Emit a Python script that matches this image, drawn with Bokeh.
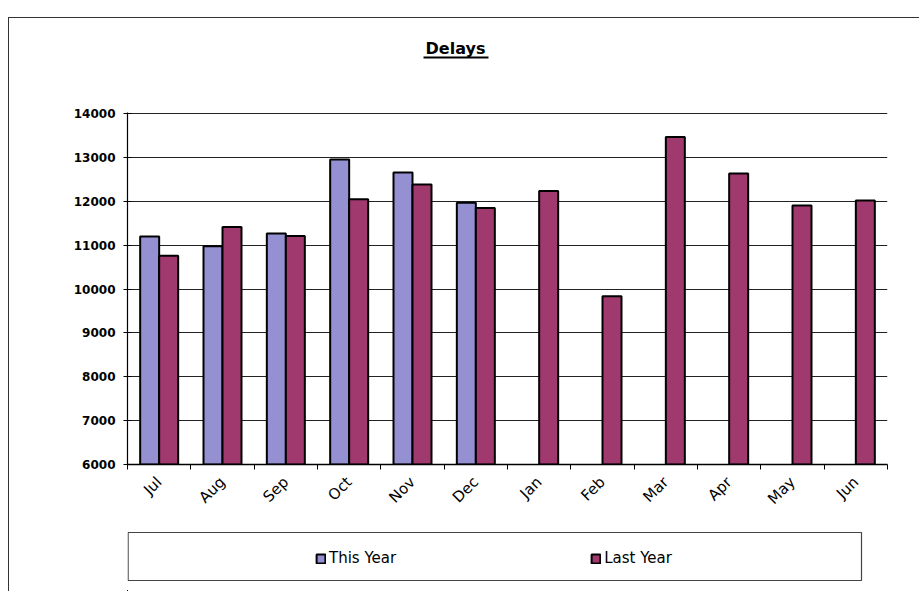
import numpy as np
from bokeh.plotting import figure
from bokeh.layouts import column
from bokeh.core.properties import value
from bokeh.models import (ColumnDataSource, FixedTicker, Legend, LegendItem, Range1d)
from bokeh.transform import dodge
from bokeh.embed import file_html
from bokeh.resources import INLINE

# Monthly delay counts, financial year Jul-Jun
months = ["Jul", "Aug", "Sep", "Oct", "Nov", "Dec",
          "Jan", "Feb", "Mar", "Apr", "May", "Jun"]
this_year = [11200, 10980, 11270, 12960, 12660, 11970,
             None, None, None, None, None, None]
last_year = [10760, 11420, 11210, 12050, 12390, 11850,
             12240, 9840, 13470, 12640, 11910, 12020]
y_ticks = [6000, 7000, 8000, 9000, 10000, 11000, 12000, 13000, 14000]
series_names = ["This Year", "Last Year"]
chart_title = "Delays"

BLUE = "#9490d2"
PLUM = "#a0396e"
FONT = "DejaVu Sans"

# page geometry (canvas pixels, top-left origin)
OX, OY = 9, 18                      # inside the chart border
W = 919 - OX
FRAME_L, FRAME_R, FRAME_T, FRAME_B = 127, 887, 112, 464
HDR_B, MAIN_B, LEG_B = 102, 520, 591
side = dict(min_border_left=FRAME_L - OX, min_border_right=919 - FRAME_R)
common = dict(output_backend="svg", toolbar_location=None,
              background_fill_color="white", border_fill_color="white")

# ---- heading (pixel-unit ranges, y downwards) -----------------------------
hdr = figure(width=W, height=HDR_B - OY, x_range=Range1d(FRAME_L, FRAME_R),
             y_range=Range1d(HDR_B, OY), x_axis_type=None, y_axis_type=None,
             min_border_top=0, min_border_bottom=0, outline_line_color=None,
             **side, **common)
hdr.grid.visible = False
hdr.text(x=[455], y=[48], text=[chart_title], text_font=value(FONT),
         text_font_style="bold", text_font_size="16px", text_align="center",
         text_baseline="alphabetic", text_color="black")
hdr.segment(x0=[423], y0=[57], x1=[488], y1=[57], line_width=2, line_color="black")

# ---- bars ------------------------------------------------------------------
idx = np.arange(len(months))
src = ColumnDataSource(dict(
    center=idx + 0.5,
    this=[np.nan if v is None else v for v in this_year],
    last=last_year,
))

p = figure(width=W, height=MAIN_B - HDR_B,
           x_range=Range1d(0, len(months)), y_range=Range1d(6000, 14030),
           min_border_top=FRAME_T - HDR_B, min_border_bottom=MAIN_B - FRAME_B,
           outline_line_color=None, **side, **common)

bar_w = 0.3
bar_style = dict(source=src, bottom=6000, width=bar_w, line_color="black", line_width=2)
r_this = p.vbar(x=dodge("center", -bar_w / 2, range=p.x_range), top="this",
                fill_color=BLUE, **bar_style)
r_last = p.vbar(x=dodge("center", bar_w / 2, range=p.x_range), top="last",
                fill_color=PLUM, **bar_style)

p.xgrid.visible = False
p.ygrid.ticker = FixedTicker(ticks=y_ticks)
p.ygrid.grid_line_color = "#222222"
p.ygrid.grid_line_width = 1.2

p.yaxis.ticker = FixedTicker(ticks=y_ticks)
p.yaxis.axis_line_color = "black"
p.yaxis.axis_line_width = 1.2
p.yaxis.major_tick_in = 4
p.yaxis.major_tick_out = 4
p.yaxis.minor_tick_line_color = None
p.yaxis.major_label_text_font = FONT
p.yaxis.major_label_text_font_style = "bold"
p.yaxis.major_label_text_font_size = "12px"
p.yaxis.major_label_text_color = "black"
p.yaxis.major_label_standoff = 8

# month labels at centres, tick marks at month boundaries
p.xaxis.ticker = FixedTicker(ticks=list(idx + 0.5),
                             minor_ticks=list(range(len(months) + 1)))
p.xaxis.major_label_overrides = {float(i + 0.5): m for i, m in enumerate(months)}
p.xaxis.major_tick_line_color = None
p.xaxis.minor_tick_in = 0
p.xaxis.minor_tick_out = 5
p.xaxis.minor_tick_line_color = "black"
p.xaxis.axis_line_color = "black"
p.xaxis.axis_line_width = 1.5
p.xaxis.major_label_orientation = np.pi / 4
p.xaxis.major_label_text_font = FONT
p.xaxis.major_label_text_font_size = "15px"
p.xaxis.major_label_text_color = "black"
p.xaxis.major_label_standoff = 9

# ---- legend strip (pixel-unit ranges, y downwards) ------------------------
LEG_H = LEG_B - MAIN_B
q = figure(width=W, height=LEG_H, x_range=Range1d(FRAME_L, FRAME_R),
           y_range=Range1d(LEG_B, MAIN_B), x_axis_type=None, y_axis_type=None,
           min_border_top=0, min_border_bottom=0, outline_line_color=None,
           **side, **common)
q.grid.visible = False
# legend frame
q.quad(left=[FRAME_L + 0.6], right=[861], top=[532], bottom=[580],
       fill_color=None, line_color="#444444", line_width=1.2)
# the series drawn again here only to key the legend (they lie outside this range)
k_style = dict(source=src, bottom=6000, width=0.1, line_color="black", line_width=2)
k_this = q.vbar(x="center", top="this", fill_color=BLUE, **k_style)
k_last = q.vbar(x="center", top="last", fill_color=PLUM, **k_style)
legend = Legend(items=[LegendItem(label=series_names[0], renderers=[k_this]),
                       LegendItem(label=series_names[1], renderers=[k_last])],
                orientation="horizontal", location=(315 - FRAME_L, LEG_H - 47),
                glyph_width=11, glyph_height=11, label_standoff=3, spacing=194,
                label_text_font=FONT, label_text_font_size="15px",
                label_text_color="black", border_line_color=None,
                background_fill_alpha=0, padding=0, margin=0)
q.add_layout(legend)

layout = column(hdr, p, q, spacing=0, margin=(OY - 1, 0, 0, OX - 1),
                styles={"border-top": "1px solid #333333",
                        "border-left": "1px solid #333333"})
open("out.html", "w").write(file_html(layout, INLINE))
